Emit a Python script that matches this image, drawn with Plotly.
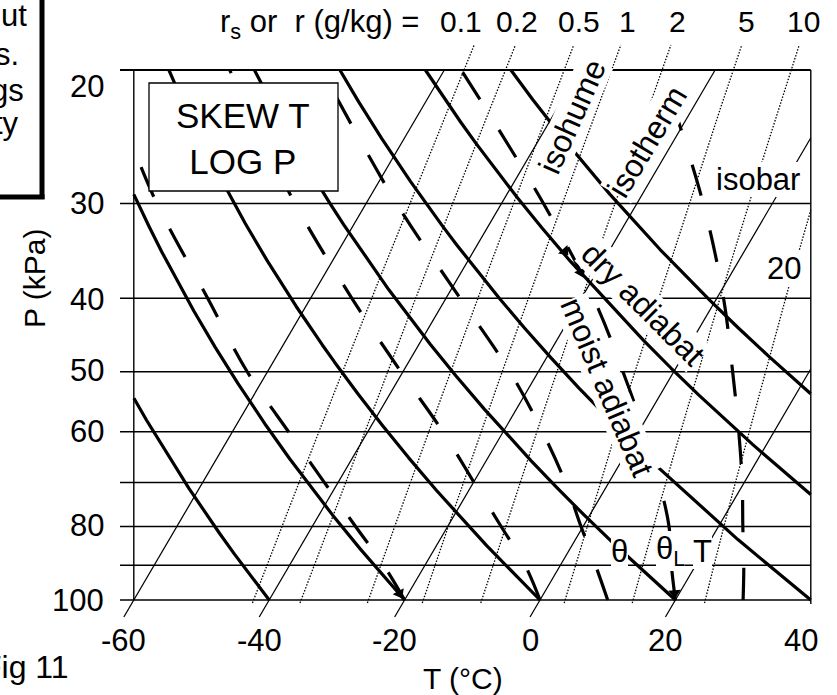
import numpy as np
import plotly.graph_objects as go

# ---------------- data ----------------
isobars_kPa = [20, 30, 40, 50, 60, 70, 80, 90, 100]
pressure_labels_kPa = [20, 30, 40, 50, 60, 80, 100]
isotherms_C = [-60, -40, -20, 0, 20, 40]
temperature_labels_C = [-60, -40, -20, 0, 20, 40]
dry_adiabats_C = [-40, -20, 0, 20, 40, 60, 80]
mixing_ratios_gkg = [0.1, 0.2, 0.5, 1, 2, 5, 10, 20]
top_ratio_labels = ["0.1", "0.2", "0.5", "1", "2", "5", "10"]

# moist adiabats: temperature (degC) at these pressures (kPa)
moist_levels_kPa = [100, 90, 80, 70, 60, 50, 40, 30, 20]
moist_m20_levels_kPa = [100, 90, 80, 70, 60, 50, 40, 30, 25.7]
moist_m20_C = [-20, -26.1, -33.6, -42.0, -51.7, -63.0, -75.2, -90.9, -98.5]
moist_0_C = [0, -5.2, -12.1, -19.9, -28.9, -40.3, -53.9, -70.5, -91.7]
moist_10_C = [10, 5.2, -0.3, -6.4, -14.2, -24.2, -37.9, -55.5, -78.1]
moist_20_C = [20, 16.4, 12.7, 7.45, 0.8, -7.5, -18.2, -33.8, -57.5]
moist_30_C = [30, 27.1, 23.6, 19.7, 14.8, 8.7, 1.0, -10.2, -27.9]

# ---------------- geometry of the skew-T frame ----------------
W, H = 837, 695
X0PX, XSCALE = 540.0, 6.77      # pixel of x=0 ; pixels per degC
Y0PX, YSCALE = 600.0, 329.3     # pixel of 100 kPa ; pixels per ln-unit of P
SKEW = 28.5                     # degC of skew per ln(100/P)
T_MIN, T_MAX = -60.0, 40.0
P_TOP, P_BOT = 20.0, 100.0


def px2x(px):
    return (px - X0PX) / XSCALE


def py2P(py):
    return 100.0 * np.exp(-(Y0PX - py) / YSCALE)


def xp(px):
    return px / W


def yp(py):
    return 1 - py / H


def skew_x(T, P):
    return np.asarray(T, float) + SKEW * np.log(100.0 / np.asarray(P, float))


def to_list(a):
    return [None if not np.isfinite(v) else float(v) for v in a]


def clip(x, P, keep_below=False):
    x = np.asarray(x, float)
    P = np.asarray(P, float)
    ok = (x >= T_MIN - 1e-6) & (x <= T_MAX + 1e-6) & (P <= P_BOT + 1e-6) & (P >= P_TOP - 1e-6)
    if keep_below:
        ok |= P > P_BOT
    return to_list(np.where(ok, x, np.nan)), to_list(np.where(ok, P, np.nan))


Rd, Cp, EPS, LRV = 287.04, 1004.67, 0.622, 5423.0

fig = go.Figure()
BLACK = "#000000"


def add_line(x, y, width, dash="solid", shape="linear"):
    fig.add_trace(go.Scatter(x=x, y=y, mode="lines", hoverinfo="skip",
                             line=dict(color=BLACK, width=width, dash=dash, shape=shape),
                             showlegend=False, connectgaps=False))


# isobars (with small tick stubs to the left)
x_left_stub = px2x(120)
for p in isobars_kPa:
    add_line([x_left_stub, T_MAX], [p, p], 2.0 if p == P_TOP else 1.5)

# isotherms (with stubs below the 100 kPa line)
P_iso = np.geomspace(py2P(617), P_TOP, 1200)
for t in isotherms_C:
    xs, ys = clip(skew_x(t, P_iso), P_iso, keep_below=(t < T_MAX))
    add_line(xs, ys, 1.25)

# isohumes (dotted), extending above the top isobar
P_hum = np.geomspace(py2P(603), py2P(45), 1500)
for r in mixing_ratios_gkg:
    rk = r / 1000.0
    e = rk * P_hum / (EPS + rk)
    Td = 1.0 / (1 / 273.15 - np.log(e / 0.6113) / LRV) - 273.15
    xx = skew_x(Td, P_hum)
    ok = (xx >= T_MIN) & (xx <= T_MAX)
    add_line(to_list(np.where(ok, xx, np.nan)), to_list(np.where(ok, P_hum, np.nan)),
             1.3, dash="1.5px,1.6px")

# dry adiabats (thick solid)
P_ad = np.geomspace(P_BOT, P_TOP, 2000)
for th in dry_adiabats_C:
    T = (th + 273.15) * (P_ad / 100.0) ** (Rd / Cp) - 273.15
    xs, ys = clip(skew_x(T, P_ad), P_ad)
    add_line(xs, ys, 3.2)

# moist adiabats (thick dashed)
for levels, temps in [(moist_m20_levels_kPa, moist_m20_C), (moist_levels_kPa, moist_0_C),
                      (moist_levels_kPa, moist_10_C), (moist_levels_kPa, moist_20_C),
                      (moist_levels_kPa, moist_30_C)]:
    add_line(to_list(skew_x(temps, levels)), list(levels), 3.2, dash="32px,36px", shape="spline")

# frame verticals
add_line([T_MIN, T_MIN], [P_BOT, P_TOP], 1.4)
add_line([T_MAX, T_MAX], [py2P(604), P_TOP], 1.4)

# small arrowheads on some adiabats (pixel tip position, direction)
arrow_tips = [(402, 598, 9, 16), (675, 598, 1, 16), (568, 255, 10, 11), (583, 277, 6, 14)]
ax_, ay_, ang_ = [], [], []
for tx, ty, dx, dy in arrow_tips:
    n = np.hypot(dx, dy)
    cx, cy = tx - 5 * dx / n, ty - 5 * dy / n
    ax_.append(px2x(cx))
    ay_.append(py2P(cy))
    ang_.append(-np.degrees(np.arctan2(dx, dy)))
fig.add_trace(go.Scatter(x=ax_, y=ay_, mode="markers", hoverinfo="skip", showlegend=False,
                         marker=dict(symbol="triangle-down", size=11, color=BLACK,
                                     angle=ang_, line=dict(width=0))))

FONT = "Liberation Sans, Arial, Helvetica, sans-serif"
ann = []


def text(px, py, s, size=31, angle=0, bg=None, xanchor="center", yanchor="middle"):
    d = dict(x=xp(px), y=yp(py), xref="paper", yref="paper", text=s, showarrow=False,
             font=dict(family=FONT, size=size, color=BLACK), textangle=angle,
             xanchor=xanchor, yanchor=yanchor, borderpad=0, borderwidth=0)
    if bg:
        d["bgcolor"] = bg
    ann.append(d)


# pressure tick labels
p_label_py = {20: 86, 30: 203, 40: 299, 50: 370, 60: 432, 80: 525, 100: 600}
for p in pressure_labels_kPa:
    text(104, p_label_py[p], str(p), xanchor="right")

# temperature tick labels (at the isotherm stubs below the frame)
for t in temperature_labels_C:
    px = X0PX + XSCALE * t - 10
    text(px, 640, str(t))

text(463, 678, "T (°C)", size=30)
text(34, 279, "P (kPa)", size=30, angle=-90)

# top mixing-ratio header
text(319, 24, "r<sub>s</sub> or  r (g/kg) =", size=31)
top_px = [461, 517, 579, 627, 677, 746, 803]
for lbl, px in zip(top_ratio_labels, top_px):
    text(px, 22, lbl, size=30)

# in-chart labels
text(784, 268, "20", bg="white")
text(758, 179, "isobar", bg="white")
text(572, 117, "isohume", size=32, angle=-66, bg="white")
text(647, 142, "isotherm", size=32, angle=-59, bg="white")
text(643, 304, "dry adiabat", size=32, angle=45, bg="white")
text(607, 387, "moist adiabat", size=32, angle=67, bg="white")
text(619, 551, "θ", bg="white")
text(670, 551, "θ<sub>L</sub>", bg="white")
text(702, 551, "T", bg="white")

# SKEW T / LOG P box
text(243, 138, "SKEW T<br>LOG P", size=35)

# cut-off side box and caption
text(27, 16, "ut", xanchor="right")
text(19, 55, "s.", xanchor="right")
text(24, 91, "gs", xanchor="right")
text(19, 124, "ty", xanchor="right")
text(69, 667, "Fig 11", size=32, xanchor="right")

shapes = [
    dict(type="rect", xref="paper", yref="paper", x0=xp(149), x1=xp(338), y0=yp(83), y1=yp(191),
         fillcolor="white", line=dict(color=BLACK, width=1.3), layer="above"),
    dict(type="line", xref="paper", yref="paper", x0=xp(42), x1=xp(42), y0=yp(-5), y1=yp(199),
         line=dict(color=BLACK, width=5)),
    dict(type="line", xref="paper", yref="paper", x0=xp(-5), x1=xp(44.5), y0=yp(197), y1=yp(197),
         line=dict(color=BLACK, width=5)),
]

fig.update_layout(
    width=W, height=H, margin=dict(l=0, r=0, t=0, b=0, pad=0),
    paper_bgcolor="white", plot_bgcolor="white",
    xaxis=dict(range=[px2x(0), px2x(W)], visible=False, fixedrange=True),
    yaxis=dict(type="log", range=[np.log10(py2P(H)), np.log10(py2P(0))], visible=False,
               fixedrange=True),
    annotations=ann, shapes=shapes, showlegend=False,
)

fig.write_html("out.html", config={"displayModeBar": False, "staticPlot": True},
               post_script="document.body.style.margin='0px';")
